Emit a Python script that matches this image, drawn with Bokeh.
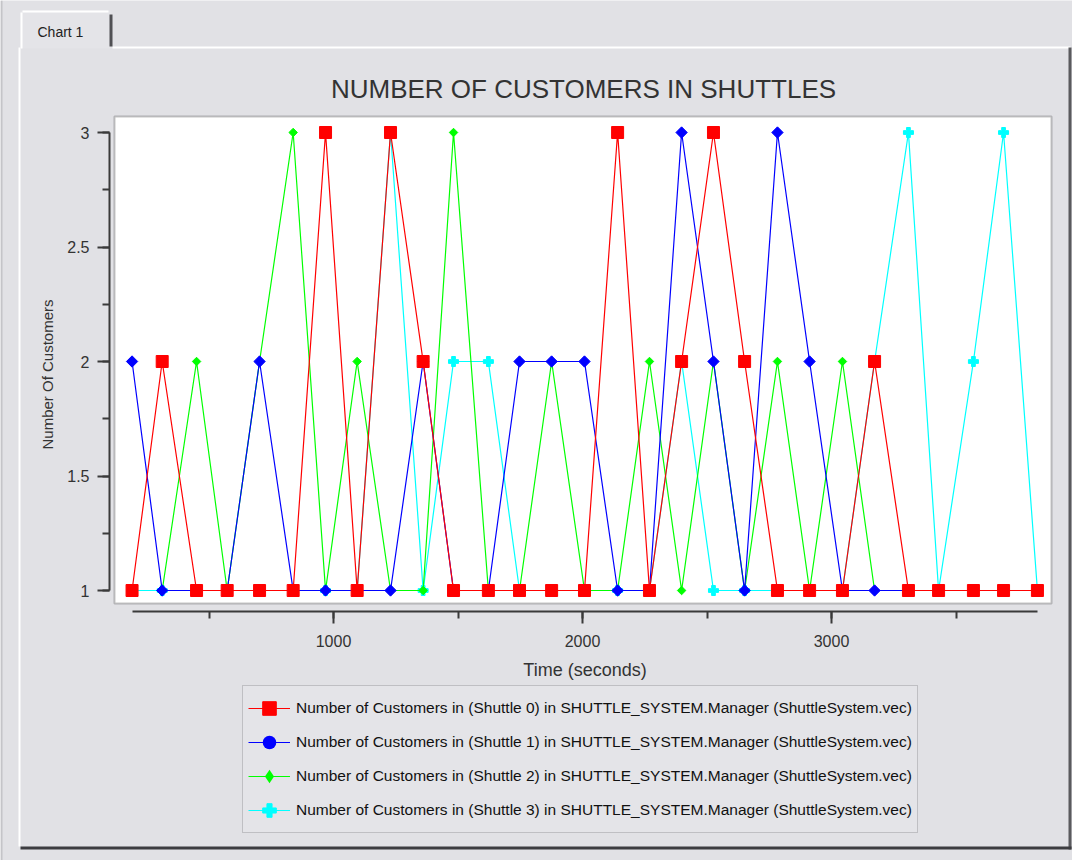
import math
from bokeh.plotting import figure
from bokeh.models import (Range1d, SingleIntervalTicker, NumeralTickFormatter,
                          Legend, LegendItem, BoxAnnotation, Label, LinearAxis, ColumnDataSource)
from bokeh.embed import file_html
from bokeh.resources import INLINE

# ---------------- data ----------------
time_s = [191, 312, 450, 573, 703, 838, 968, 1095, 1229, 1360, 1482, 1622, 1747, 1876, 2008,
          2141, 2269, 2398, 2526, 2651, 2783, 2912, 3044, 3173, 3309, 3430, 3570, 3691, 3827]
shuttle0 = [1, 2, 1, 1, 1, 1, 3, 1, 3, 2, 1, 1, 1, 1, 1, 3, 1, 2, 3, 2, 1, 1, 1, 2, 1, 1, 1, 1, 1]
shuttle1 = [2, 1, 1, 1, 2, 1, 1, 1, 1, 2, 1, 1, 2, 2, 2, 1, 1, 3, 2, 1, 3, 2, 1, 1, 1, 1, 1, 1, 1]
shuttle2 = [1, 2, 1, 2, 3, 1, 2, 1, 1, 3, 1, 1, 2, 1, 1, 2, 1, 2, 1, 2, 1, 2, 1, 1, 1, 1, 1, 1]  # starts at 2nd sample
shuttle3 = [1, 1, 1, 1, 1, 1, 1, 1, 3, 1, 2, 2, 1, 1, 1, 1, 1, 2, 1, 1, 1, 1, 1, 2, 3, 1, 2, 3, 1]
series_names = [
    "Number of Customers in (Shuttle 0) in SHUTTLE_SYSTEM.Manager (ShuttleSystem.vec)",
    "Number of Customers in (Shuttle 1) in SHUTTLE_SYSTEM.Manager (ShuttleSystem.vec)",
    "Number of Customers in (Shuttle 2) in SHUTTLE_SYSTEM.Manager (ShuttleSystem.vec)",
    "Number of Customers in (Shuttle 3) in SHUTTLE_SYSTEM.Manager (ShuttleSystem.vec)",
]
title_text = "NUMBER OF CUSTOMERS IN SHUTTLES"
x_label = "Time (seconds)"
y_label = "Number Of Customers"
tab_text = "Chart 1"

# ---------------- style ----------------
BG = "#e1e1e5"
FONT = "Liberation Sans"
TXT = "#333333"
AX = "#3a3a3a"

W, H = 1072, 860
# pixel <-> data mapping of the chart (the figure frame covers the whole canvas)
X0_PX, X_PX_PER_UNIT = 84.0, 0.249      # time 0 at x=84 px, 249 px per 1000 s
Y1_PX, Y_PX_PER_UNIT = 590.0, 229.0     # 1 customer at y=590 px, 229 px per customer


def xd(px):
    return (px - X0_PX) / X_PX_PER_UNIT


def yd(py):
    return 1 + (Y1_PX - py) / Y_PX_PER_UNIT


p = figure(width=W, height=H, output_backend="svg", toolbar_location=None,
           x_range=Range1d(xd(0), xd(W)), y_range=Range1d(yd(H), yd(0)),
           x_axis_location=None, y_axis_location=None,
           min_border=0, min_border_left=0, min_border_right=0, min_border_top=0, min_border_bottom=0,
           background_fill_color=BG, border_fill_color=BG, outline_line_color=None)
p.grid.visible = False
p.title.visible = False


def cbox(l, r, t, b, level="underlay", **kw):
    return BoxAnnotation(left=l, right=r, top=t, bottom=b, left_units="canvas", right_units="canvas",
                         top_units="canvas", bottom_units="canvas", level=level, **kw)


# ---------------- window chrome ----------------
p.add_layout(cbox(0, 2, 0, H, fill_color="#c4c4c8", fill_alpha=1, line_color=None))
p.add_layout(cbox(18, 20, 47, 846, fill_color="#ffffff", fill_alpha=1, line_color=None))
p.add_layout(cbox(112, 1070, 46, 48, fill_color="#ffffff", fill_alpha=1, line_color=None))
p.add_layout(cbox(1068, 1071, 47, 849, fill_color="#5a5a5e", fill_alpha=1, line_color=None))
p.add_layout(cbox(20, 1071, 846, 849, fill_color="#3c3c40", fill_alpha=1, line_color=None))
p.add_layout(cbox(20, 111, 10, 48, fill_color="#e4e4e8", fill_alpha=1, line_color=None))
p.add_layout(cbox(20, 22, 12, 48, fill_color="#ffffff", fill_alpha=1, line_color=None))
p.add_layout(cbox(22, 108, 10, 12, fill_color="#ffffff", fill_alpha=1, line_color=None))
p.add_layout(cbox(109, 112, 14, 46, fill_color="#505054", fill_alpha=1, line_color=None))
p.add_layout(Label(x=37, y=31, x_units="canvas", y_units="canvas", text=tab_text,
                   text_font=FONT, text_font_size="14px", text_color="#222222",
                   text_baseline="middle"))

# plot area (white box with dark border)
p.add_layout(cbox(114, 1051, 116, 603, fill_color="white", fill_alpha=1,
                  line_color=AX, line_width=2))

# title
p.add_layout(Label(x=583, y=88, x_units="canvas", y_units="canvas", text=title_text,
                   text_font=FONT, text_font_size="26px", text_color=TXT,
                   text_align="center", text_baseline="middle"))

# y axis title
p.add_layout(Label(x=47, y=374, x_units="canvas", y_units="canvas", text=y_label,
                   text_font=FONT, text_font_size="15px", text_color=TXT, angle=math.pi / 2,
                   text_align="center", text_baseline="middle"))

# ---------------- axes (offset from the plot box, like the original) ----------------
yax = LinearAxis(ticker=SingleIntervalTicker(interval=0.5, num_minor_ticks=2),
                 formatter=NumeralTickFormatter(format="0.[0]"), bounds=(1, 3),
                 fixed_location=xd(109))
xax = LinearAxis(ticker=SingleIntervalTicker(interval=1000, num_minor_ticks=2),
                 formatter=NumeralTickFormatter(format="0"), bounds=(time_s[0], time_s[-1]),
                 fixed_location=yd(611))
for ax in (yax, xax):
    ax.axis_line_color = AX
    ax.axis_line_width = 2
    ax.major_tick_line_color = AX
    ax.minor_tick_line_color = AX
    ax.major_tick_line_width = 2
    ax.minor_tick_line_width = 2
    ax.major_tick_in = 0
    ax.minor_tick_in = 0
    ax.major_tick_out = 12
    ax.minor_tick_out = 7
    ax.major_label_text_font = FONT
    ax.major_label_text_font_size = "16px"
    ax.major_label_text_color = TXT
    ax.axis_label_text_font = FONT
    ax.axis_label_text_font_style = "normal"
    ax.axis_label_text_color = TXT
yax.major_label_standoff = 8
xax.axis_label = x_label
xax.axis_label_text_font_size = "18px"
xax.major_label_standoff = 11
xax.axis_label_standoff = 10
p.add_layout(yax, "left")
p.add_layout(xax, "below")

# ---------------- series ----------------
# x, y, colour, plot marker, size, angle, legend marker (or None), legend-marker size, name
specs = [
    (time_s, shuttle3, "#00ffff", "plus", 10, 0.0, None, 0, series_names[3]),
    (time_s[1:], shuttle2, "#00ff00", "square", 6, math.pi / 4, "diamond", 5, series_names[2]),
    (time_s, shuttle1, "#0000ff", "square", 8, math.pi / 4, "circle", 6, series_names[1]),
    (time_s, shuttle0, "#ff0000", "square", 12, 0.0, None, 0, series_names[0]),
]
items = {}
for xs, ys, col, marker, size, ang, lmarker, lsize, name in specs:
    src = ColumnDataSource(dict(t=xs, n=ys))
    lr = p.line("t", "n", source=src, line_color=col, line_width=1.2)
    sym = None
    if lmarker is not None:
        # legend symbol; in the plot it sits fully hidden under the rotated marker drawn next
        sym = p.scatter("t", "n", source=src, marker=lmarker, size=lsize,
                        fill_color=col, line_color=col, line_width=0)
    sr = p.scatter("t", "n", source=src, marker=marker, size=size, angle=ang,
                   fill_color=col, line_color=col, line_width=1)
    items[name] = LegendItem(label=name, renderers=[lr, sym if sym is not None else sr])

legend = Legend(items=[items[n] for n in series_names], location=(242, H - 833),
                orientation="vertical", glyph_width=42, glyph_height=34, spacing=0,
                padding=5, margin=0, label_standoff=6,
                label_text_font=FONT, label_text_font_size="15.5px", label_text_color="#111111",
                background_fill_color="#e4e4e8", background_fill_alpha=1,
                border_line_color="#9a9a9e", border_line_width=1)
p.add_layout(legend, "center")

open("out.html", "w").write(file_html(p, INLINE))
